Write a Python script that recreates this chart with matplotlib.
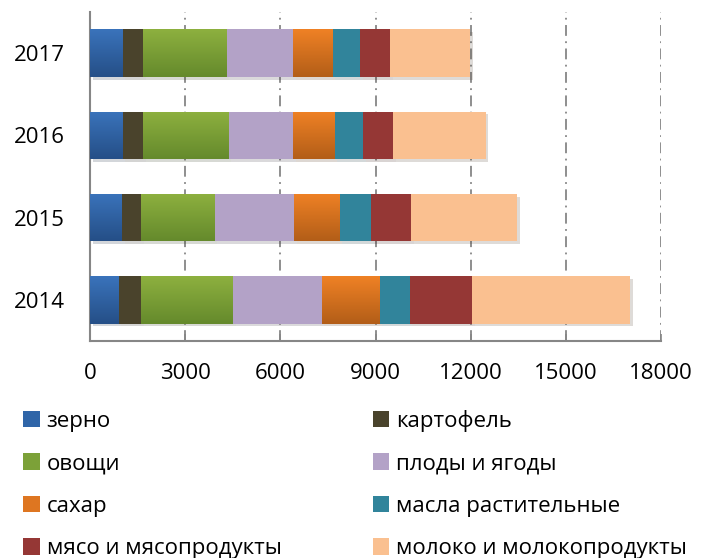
import numpy as np
import matplotlib
matplotlib.use('Agg')
import matplotlib.pyplot as plt
import matplotlib.patheffects as pe
from matplotlib.patches import Patch
from matplotlib.colors import LinearSegmentedColormap

plt.rcParams['font.family'] = ['Open Sans', 'DejaVu Sans']

years = ['2014', '2015', '2016', '2017']
categories = ['зерно', 'картофель', 'овощи', 'плоды и ягоды', 'сахар',
              'масла растительные', 'мясо и мясопродукты', 'молоко и молокопродукты']
zerno = [900, 1000, 1010, 1010]
kartofel = [700, 600, 660, 660]
ovoshchi = [2900, 2320, 2680, 2620]
plody = [2800, 2520, 2040, 2100]
sakhar = [1800, 1420, 1300, 1240]
masla = [970, 1000, 910, 880]
myaso = [1980, 1260, 950, 950]
moloko = [4980, 3340, 2920, 2520]
series = [zerno, kartofel, ovoshchi, plody, sakhar, masla, myaso, moloko]
colors = ['#2F65A8', '#4A432C', '#7CA138', '#B3A2C7', '#DE7621',
          '#31849B', '#953735', '#FAC090']
# vertical gradients (top, bottom) for the shaded series
gradients = {0: ('#3A73BB', '#254F87'), 2: ('#8DB03F', '#658A2C'), 4: ('#EF8125', '#B35E18')}

fig = plt.figure(figsize=(7.04, 5.58), dpi=100)
ax = fig.add_axes([0.128, 0.389, 0.811, 0.5895])

y = np.arange(len(years))
left = np.zeros(len(years))
for i, (vals, c) in enumerate(zip(series, colors)):
    bars = ax.barh(y, vals, left=left, height=0.58, color=c, zorder=3)
    for b in bars:
        b.set_path_effects([pe.SimplePatchShadow(offset=(2, -2), alpha=0.18), pe.Normal()])
        if i in gradients:
            cmap = LinearSegmentedColormap.from_list('g', list(gradients[i]))
            x0, y0 = b.get_x(), b.get_y()
            im = ax.imshow(np.linspace(0, 1, 50).reshape(-1, 1), cmap=cmap, aspect='auto',
                           extent=(x0, x0 + b.get_width(), y0, y0 + b.get_height()),
                           origin='upper', zorder=3.1, interpolation='bilinear')
            im.set_clip_path(b)
    left += np.array(vals)

ax.set_xlim(0, 18000)
ax.set_ylim(-0.5, 3.5)
ax.set_xticks(np.arange(0, 18001, 3000))
ax.set_yticks(y)
ax.set_yticklabels(years)
ax.tick_params(axis='x', direction='in', length=5, color='#868686', width=1.2,
               labelsize=16, pad=16)
ax.tick_params(axis='y', length=0, labelsize=16, pad=18)
ax.grid(axis='x', color='#868686', linestyle=(0, (6, 3, 1, 3)), linewidth=1.3, zorder=0)
for s in ['top', 'right']:
    ax.spines[s].set_visible(False)
for s in ['left', 'bottom']:
    ax.spines[s].set_color('#868686')
    ax.spines[s].set_linewidth(1.5)

handles = [Patch(facecolor=c) for c in colors]
order = [0, 2, 4, 6, 1, 3, 5, 7]
fig.legend([handles[i] for i in order], [categories[i] for i in order],
           loc='upper left', bbox_to_anchor=(0.033, 0.266), ncol=2, frameon=False,
           fontsize=16, handlelength=0.75, handleheight=0.75, handletextpad=0.3,
           labelspacing=0.97, columnspacing=4.1, borderpad=0, borderaxespad=0)

fig.savefig('out.png', dpi=100)
